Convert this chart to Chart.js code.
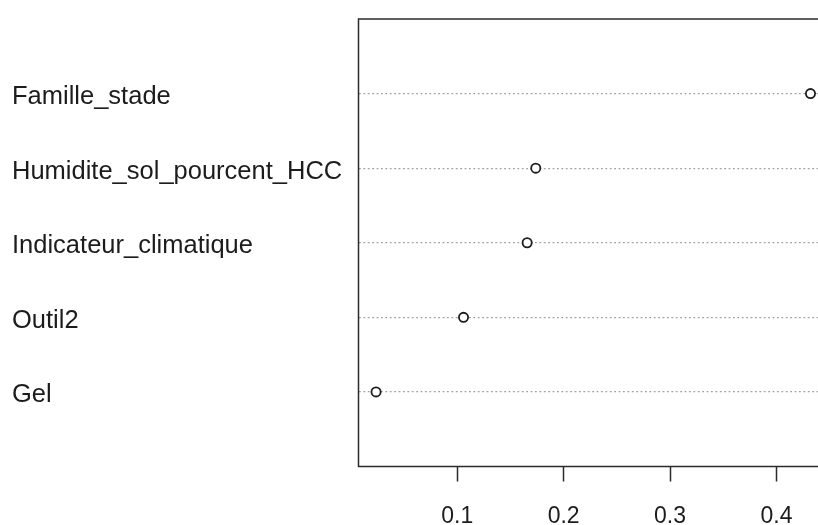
<!DOCTYPE html>
<html>
<head>
<meta charset="utf-8">
<script src="https://cdn.jsdelivr.net/npm/chart.js@4/dist/chart.umd.min.js"></script>
<style>
  html, body { margin: 0; padding: 0; background: #fff; overflow: hidden; width: 818px; height: 525px; }
  canvas { display: block; }
</style>
</head>
<body>
<canvas id="c" width="832" height="525"></canvas>
<script>
// Variable importance (dotchart), bottom to top
const categories = ["Gel", "Outil2", "Indicateur_climatique", "Humidite_sol_pourcent_HCC", "Famille_stade"];
const importance = [0.0237, 0.1059, 0.1657, 0.1738, 0.432];
const xTicks = [0.1, 0.2, 0.3, 0.4];
const xMin = 0.0072, xMax = 0.4462;

const points = importance.map((v, i) => ({ x: v, y: i + 1 }));

const boxPlugin = {
  id: 'box',
  afterDraw(chart) {
    const { ctx, chartArea: a } = chart;
    ctx.save();
    ctx.strokeStyle = '#2b2b2b';
    ctx.lineWidth = 1.5;
    ctx.strokeRect(a.left, a.top, a.right - a.left, a.bottom - a.top);
    ctx.restore();
  }
};

new Chart(document.getElementById('c'), {
  type: 'scatter',
  data: {
    datasets: [{
      data: points,
      pointRadius: 4.6,
      pointBorderWidth: 1.8,
      pointBorderColor: '#1e1e1e',
      pointBackgroundColor: '#ffffff',
      pointHoverRadius: 4.6
    }]
  },
  plugins: [boxPlugin],
  options: {
    responsive: false,
    animation: false,
    events: [],
    layout: { padding: { left: 12, top: 19, right: 2, bottom: 0 } },
    plugins: { legend: { display: false }, tooltip: { enabled: false } },
    scales: {
      x: {
        type: 'linear',
        min: xMin,
        max: xMax,
        afterBuildTicks(s) { s.ticks = xTicks.map(v => ({ value: v })); },
        afterFit(s) { s.height = 58.5; },
        grid: { display: true, drawOnChartArea: false, drawTicks: true, tickLength: 15, tickColor: '#2b2b2b', tickWidth: 1.5 },
        border: { display: false },
        ticks: {
          color: '#1c1c1c',
          font: { family: 'Liberation Sans, Arial, sans-serif', size: 23 },
          padding: 21,
          maxRotation: 0,
          autoSkip: false,
          callback: v => String(v)
        }
      },
      y: {
        type: 'linear',
        min: 0,
        max: categories.length + 1,
        afterBuildTicks(s) { s.ticks = categories.map((c, i) => ({ value: i + 1 })); },
        afterFit(s) { s.width = 346.5; },
        grid: { display: true, drawTicks: false, color: '#a0a0a0', lineWidth: 1.3 },
        border: { display: false, dash: [1.8, 2.6] },
        ticks: {
          color: '#1c1c1c',
          crossAlign: 'far',
          font: { family: 'Liberation Sans, Arial, sans-serif', size: 25.5, lineHeight: '7px' },
          autoSkip: false,
          callback: v => ['', categories[v - 1]]
        }
      }
    }
  }
});
</script>
</body>
</html>
